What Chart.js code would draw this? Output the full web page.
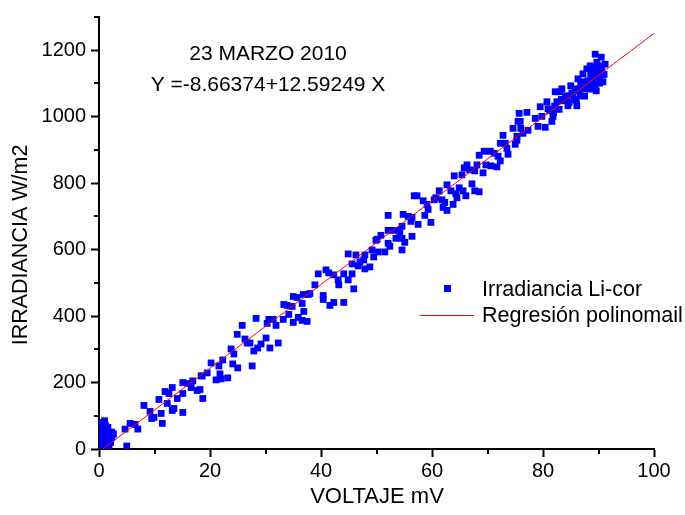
<!DOCTYPE html>
<html>
<head>
<meta charset="utf-8">
<script src="https://cdn.jsdelivr.net/npm/chart.js@4.4.1/dist/chart.umd.min.js"></script>
<style>
    html, body { margin: 0; padding: 0; background: #fff; }
    #wrap { width: 685px; height: 515px; }
</style>
</head>
<body>
<div id="wrap"><canvas id="chart" width="685" height="515"></canvas></div>
<script>
// Datos (voltaje en mV, irradiancia en W/m2)
const voltaje = [
    0.1, 0.1, 0.2, 0.2, 0.3, 0.3, 0.5, 0.5, 0.6, 0.7, 0.8, 1.0, 1.0, 1.1, 1.3, 1.4, 0.4, 1.2, 1.8, 2.0, 2.3, 2.6, 1.6, 0.9, 0.0, 0.0, 0.2, 1.5, 2.1, 0.7, 1.2,
    0.9, 2.3, 2.5, 5.0, 4.7, 5.6, 6.5, 7.0, 8.1, 9.2, 9.5, 9.9, 10.8, 11.2, 11.4, 11.9, 12.3, 12.6, 13.2, 13.2, 13.5, 14.1, 15.1, 15.1, 15.1, 16.0, 16.6, 16.9, 17.7, 18.2, 18.4, 18.7,
    18.6, 19.5, 20.2, 21.1, 21.6, 21.8, 22.0, 22.3, 23.2, 23.8, 24.1, 24.3, 25.0, 24.9, 25.8, 26.3, 26.7, 27.2, 27.6, 27.9, 28.3, 28.6, 29.2, 30.1, 30.3, 30.6, 30.8, 31.4, 31.9, 32.3, 33.2, 33.3, 33.9, 34.2, 34.8, 35.0, 35.0, 35.7, 35.9, 36.6, 36.6, 36.8, 36.9, 37.5, 37.7,
    38.0, 38.9, 39.5, 40.4, 40.4, 40.9, 41.4, 41.6, 42.3, 42.3, 43.1, 43.2, 44.1, 44.1, 44.9, 44.9, 45.6, 45.6, 45.9, 46.3, 46.7, 47.0, 47.7, 47.9, 47.9, 48.8, 49.2, 49.5, 49.9, 50.1, 50.3, 50.8, 51.5, 52.1, 52.1, 52.1, 52.4, 53.0, 53.5, 53.9, 54.2, 54.6, 54.6, 54.6, 54.8, 55.1, 55.7, 56.2, 56.4, 56.8,
    56.4, 57.3, 57.5, 58.4, 58.7, 59.1, 59.3, 59.8, 60.4, 60.7, 61.3, 61.8, 62.0, 62.3, 62.7, 62.7, 63.4, 63.8, 64.0, 64.3, 64.5, 64.9, 65.4, 65.6, 65.8, 66.1, 66.3, 66.8, 67.2, 67.7, 67.7, 68.1, 68.5, 68.5, 69.2, 69.4, 69.7, 70.5, 70.6, 71.2, 71.7, 71.9, 72.3, 72.3, 72.8, 73.2, 73.5, 73.7, 74.6, 75.0, 75.3, 75.5, 75.7,
    75.3, 75.9, 76.0, 76.4, 77.1, 77.3, 78.6, 79.1, 79.5, 79.8, 80.4, 80.7, 80.9, 81.6, 81.8, 82.2, 82.5, 83.1, 83.4, 83.6, 84.3, 84.5, 85.0, 85.4, 85.8, 86.1, 86.3, 86.7, 87.0, 87.2, 87.6, 87.9, 88.1, 88.5, 88.8, 89.0, 89.4, 89.7, 89.9, 90.3, 90.5, 90.6, 90.8, 89.4, 90.5, 91.2,
    81.2, 82.1, 83.3, 84.1, 85.2, 86.4, 87.3, 88.2, 89.1, 90.1, 84.7, 86.8, 88.6, 89.3, 87.5, 85.6, 82.9, 81.9, 86.0, 88.4, 90.2, 91.0, 89.6
];
const irradiancia = [
    5, 20, 35, 50, 65, 80, 10, 28, 45, 60, 75, 85, 15, 40, 55, 25, 0, 2, 5, 45, 35, 45, 65, 30, 12, 42, 70, 10, 20, 18, 70,
    77, 51, 45, 9, 60, 77, 74, 60, 131, 113, 92, 95, 149, 107, 77, 173, 137, 167, 185, 116, 122, 152, 200, 167, 110, 197, 185, 205, 176, 179, 220, 152,
    220, 229, 259, 208, 250, 226, 211, 268, 214, 301, 256, 286, 244, 345, 372, 331, 319, 319, 250, 295, 393, 304, 316, 334, 378, 390, 304, 390, 372, 319, 390, 435, 432, 405, 429, 381, 459, 456, 396, 438, 387, 465, 414, 384, 465,
    468, 494, 527, 462, 450, 539, 530, 432, 524, 441, 509, 494, 441, 527, 509, 587, 557, 527, 482, 584, 551, 563, 569, 584, 542, 548, 599, 578, 628, 631, 593, 643, 593, 703, 658, 619, 610, 658, 634, 658, 649, 670, 599, 634, 706, 622, 700, 685, 640, 762,
    697, 762, 676, 747, 703, 736, 721, 682, 750, 756, 777, 750, 727, 742, 795, 718, 777, 736, 822, 768, 756, 786, 825, 777, 846, 762, 855, 840, 798, 837, 777, 855, 884, 774, 831, 896, 855, 896, 852, 890, 849, 881, 920, 867, 944, 920, 905, 887, 965, 917, 929, 986, 1010,
    941, 986, 965, 950, 1013, 959, 995, 971, 1030, 1001, 968, 1045, 1024, 986, 1001, 1075, 1045, 1075, 1084, 1048, 1063, 1033, 1093, 1066, 1084, 1033, 1114, 1063, 1105, 1129, 1084, 1144, 1108, 1153, 1135, 1105, 1090, 1164, 1129, 1114, 1153, 1138, 1105, 1188, 1179, 1158,
    1018, 1032, 1052, 1058, 1071, 1079, 1092, 1101, 1121, 1142, 1043, 1098, 1127, 1148, 1062, 1052, 1022, 1012, 1049, 1083, 1101, 1127, 1078
];

// Recta de regresion (extremos del trazo rojo)
const regresionX = [0, 100];
const regresionY = [-8.66374, 1250.585];

// Marcas de los ejes
const xTicks = [0, 20, 40, 60, 80, 100];
const xMenores = [10, 30, 50, 70, 90];
const yTicks = [0, 200, 400, 600, 800, 1000, 1200];
const yMenores = [100, 300, 500, 700, 900, 1100, 1300];

// Textos
const titulo = '23 MARZO 2010';
const ecuacion = 'Y =-8.66374+12.59249 X';
const tituloX = 'VOLTAJE mV';
const tituloY = 'IRRADIANCIA W/m2';
const leyendaPuntos = 'Irradiancia Li-cor';
const leyendaLinea = 'Regresión polinomail';

const FUENTE = '"Liberation Sans", Arial, sans-serif';
const AZUL = '#0000ff';
const ROJO = '#ff0000';

// Plugin para marcas menores, titulos, ecuacion y leyenda
const extrasPlugin = {
    id: 'extras',
    afterDraw(chart) {
        const ctx = chart.ctx;
        const area = chart.chartArea;
        const sx = chart.scales.x;
        const sy = chart.scales.y;

        ctx.save();
        // marcas menores
        ctx.strokeStyle = '#000';
        ctx.lineWidth = 2;
        ctx.beginPath();
        xMenores.forEach(v => {
            const px = Math.round(sx.getPixelForValue(v));
            ctx.moveTo(px, area.bottom);
            ctx.lineTo(px, area.bottom + 5);
        });
        yMenores.forEach(v => {
            const py = Math.round(sy.getPixelForValue(v));
            ctx.moveTo(area.left - 5, py);
            ctx.lineTo(area.left, py);
        });
        ctx.stroke();

        ctx.fillStyle = '#000';
        ctx.textAlign = 'center';
        ctx.textBaseline = 'middle';
        ctx.font = '21px ' + FUENTE;
        ctx.fillText(titulo, 268, 54);
        ctx.fillText(ecuacion, 268, 85);

        // titulos de ejes
        ctx.font = '22px ' + FUENTE;
        ctx.fillText(tituloX, 377, 497);
        ctx.save();
        ctx.translate(21, 245);
        ctx.rotate(-Math.PI / 2);
        ctx.font = '21.5px ' + FUENTE;
        ctx.fillText(tituloY, 0, 0);
        ctx.restore();

        // leyenda
        ctx.fillStyle = AZUL;
        ctx.fillRect(444, 285, 7, 7);
        ctx.strokeStyle = ROJO;
        ctx.lineWidth = 1;
        ctx.beginPath();
        ctx.moveTo(420, 315.5);
        ctx.lineTo(474, 315.5);
        ctx.stroke();
        ctx.fillStyle = '#000';
        ctx.textAlign = 'left';
        ctx.font = '21.5px ' + FUENTE;
        ctx.fillText(leyendaPuntos, 482, 290);
        ctx.fillText(leyendaLinea, 482, 316);
        ctx.restore();
    }
};

const puntos = voltaje.map((v, i) => ({ x: v, y: irradiancia[i] }));
const recta = regresionX.map((v, i) => ({ x: v, y: regresionY[i] }));

function ejeComun(min, max, marcas, lado) {
    return {
        type: 'linear',
        min: min,
        max: max,
        afterBuildTicks: scale => {
            scale.ticks = marcas.map(v => ({ value: v }));
        },
        afterFit: scale => {
            if (lado === 'x') scale.height = 66;
            else scale.width = 99;
        },
        grid: {
            drawOnChartArea: false,
            drawTicks: true,
            tickLength: 8,
            tickWidth: 2,
            tickColor: '#000'
        },
        border: { display: true, color: '#000', width: 2 },
        ticks: {
            color: '#000',
            font: { family: FUENTE, size: 20 },
            padding: lado === 'x' ? 2 : 5,
            maxRotation: 0,
            autoSkip: false,
            callback: v => String(v)
        }
    };
}

new Chart(document.getElementById('chart'), {
    type: 'scatter',
    data: {
        datasets: [
            {
                type: 'line',
                label: leyendaLinea,
                data: recta,
                borderColor: ROJO,
                borderWidth: 1,
                pointRadius: 0,
                fill: false,
                order: 0
            },
            {
                label: leyendaPuntos,
                data: puntos,
                pointStyle: 'rect',
                pointRadius: 4.8,
                backgroundColor: AZUL,
                borderColor: AZUL,
                borderWidth: 0,
                order: 1
            }
        ]
    },
    options: {
        responsive: false,
        animation: false,
        devicePixelRatio: 1,
        layout: { padding: { top: 13, right: 31, left: 0, bottom: 0 } },
        plugins: {
            legend: { display: false },
            tooltip: { enabled: false }
        },
        scales: {
            x: ejeComun(0, 100, xTicks, 'x'),
            y: ejeComun(0, 1300, yTicks, 'y')
        }
    },
    plugins: [extrasPlugin]
});
</script>
</body>
</html>
